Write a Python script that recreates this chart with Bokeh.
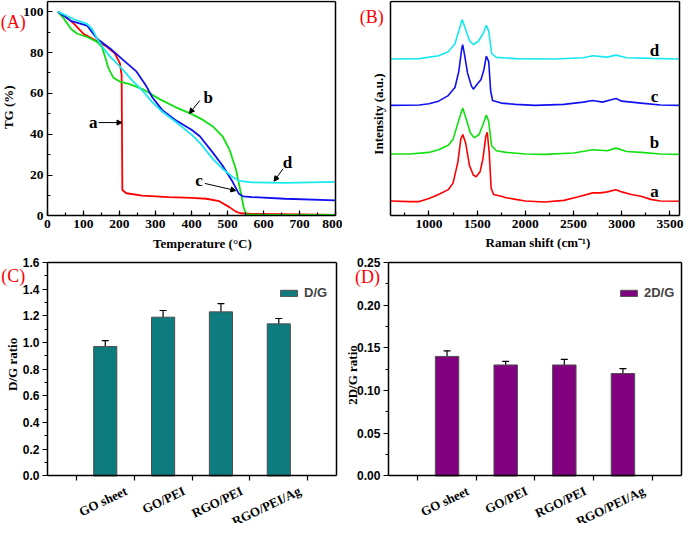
import math
from bokeh.plotting import figure
from bokeh.layouts import column, row
from bokeh.models import (ColumnDataSource, Arrow, NormalHead, Label, LabelSet, FixedTicker,
                          SingleIntervalTicker, Whisker, TeeHead, Legend, LegendItem,
                          Range1d, PrintfTickFormatter, LinearAxis)
from bokeh.embed import file_html
from bokeh.resources import INLINE

SERIF = "Liberation Serif"
SANS = "Liberation Sans"

# ---------------- (A) TG data ----------------
temp_a = [29, 50, 74, 101, 138, 165, 187, 201, 206, 207, 208, 219, 264, 337, 400, 441, 477, 505, 523, 536, 568, 700, 800]
tg_a = [100, 97.8, 94, 89, 85.5, 82.8, 79.6, 74.8, 69, 40, 12.7, 11.1, 9.9, 9.2, 8.8, 8.4, 7.2, 4.3, 2.1, 1.3, 1.0, 0.7, 0.5]
temp_b = [29, 47, 65, 83, 110, 138, 151, 160, 169, 183, 201, 228, 264, 310, 355, 396, 432, 459, 486, 505, 523, 536, 545, 552, 600, 800]
tg_b = [100, 96.3, 91.6, 89.2, 87.6, 85.2, 82.8, 78, 72.5, 67.7, 65.8, 64.5, 62.1, 57.3, 53.3, 50.2, 47, 43.8, 39, 32.6, 23, 12, 4, 0.8, 0.5, 0.5]
temp_c = [29, 65, 110, 124, 138, 174, 210, 246, 274, 291, 319, 355, 400, 423, 459, 486, 514, 532, 543, 568, 659, 800]
tg_c = [100, 95.5, 93.2, 90, 86.8, 82, 76.4, 70.9, 63.7, 58.1, 51.8, 47, 42.2, 39, 31, 24.7, 16.7, 10.7, 9.6, 9.2, 8.4, 7.6]
temp_d = [29, 74, 110, 124, 138, 156, 174, 201, 237, 264, 291, 319, 355, 400, 423, 459, 486, 514, 532, 568, 659, 800]
tg_d = [100, 96.3, 94, 91.6, 86.8, 82, 78, 73.2, 66, 61.3, 55.7, 51, 46.2, 39.8, 35.8, 27.9, 23.1, 19.1, 17.2, 16.4, 16.2, 16.7]

tg_labels = ["a", "b", "c", "d"]
tg_label_x = [127, 446, 421, 666]
tg_label_y = [45.7, 58.1, 17.5, 26.3]
tg_arrow_x0 = [142, 423, 437, 654]
tg_arrow_y0 = [45.7, 56.5, 15.9, 23.1]
tg_arrow_x1 = [207, 394, 523, 629]
tg_arrow_y1 = [45.7, 50.2, 12.4, 17.0]

# ---------------- (B) Raman data (offset, arbitrary units) ----------------
shift_a = [600, 800, 900, 1000, 1100, 1200, 1250, 1300, 1330, 1351, 1380, 1420, 1460, 1490, 1530, 1560, 1590, 1605, 1625, 1645, 1670, 1750, 1800, 1900, 2000, 2200, 2400, 2550, 2700, 2780, 2850, 2940, 3000, 3100, 3200, 3300, 3400, 3600]
int_a = [15.3, 14.7, 14.7, 18, 22, 27, 33.7, 55.3, 78.7, 83.7, 75.3, 52, 42, 40.3, 45.3, 58.7, 82, 86, 65.3, 28.7, 22, 20.3, 18.7, 17, 15.3, 14.3, 16, 19.7, 23.7, 23.7, 24.7, 27, 24.7, 22, 20.3, 17, 15.3, 15]
shift_b = [600, 800, 1000, 1100, 1200, 1250, 1300, 1350, 1390, 1430, 1470, 1520, 1560, 1595, 1620, 1650, 1700, 1800, 2000, 2200, 2500, 2700, 2850, 2940, 3050, 3200, 3400, 3600]
int_b = [63.7, 63.7, 65.3, 68, 72.7, 78.7, 95.3, 111, 98.7, 85.3, 80.3, 83.7, 93.7, 103.7, 97, 72, 67, 65.3, 63.7, 63.3, 64.7, 68, 67, 69.7, 66.3, 65.3, 63.7, 63.3]
shift_c = [600, 900, 1000, 1100, 1200, 1270, 1310, 1340, 1350, 1370, 1400, 1440, 1460, 1500, 1540, 1570, 1595, 1620, 1640, 1660, 1750, 1900, 2100, 2400, 2600, 2700, 2800, 2900, 2940, 3000, 3200, 3400, 3600]
int_c = [113.7, 114, 115.3, 118, 123.7, 132, 148.7, 172, 176, 165.3, 147, 133.7, 130.3, 135.3, 140.3, 150.3, 164.3, 158.7, 128.7, 118.7, 116, 114.7, 113.7, 114.7, 117, 118.7, 117, 119.7, 120.7, 118, 116, 114, 113.7]
shift_d = [600, 900, 1100, 1200, 1270, 1310, 1345, 1380, 1420, 1460, 1510, 1560, 1595, 1620, 1650, 1700, 1900, 2300, 2600, 2700, 2850, 2940, 3050, 3300, 3600]
int_d = [161.3, 161.7, 164.7, 168.7, 177, 190.3, 202, 192, 180.3, 176.3, 179.3, 187, 196, 190.3, 167, 163, 161.7, 161.3, 162.7, 164.7, 163.3, 165.3, 162.7, 162, 161.3]
raman_labels = ["a", "b", "c", "d"]
raman_label_x = [3340, 3340, 3340, 3340]
raman_label_y = [25, 75, 123, 170]

# ---------------- (C), (D) bar data ----------------
samples = ["GO sheet", "GO/PEI", "RGO/PEI", "RGO/PEI/Ag"]
sample_pos = [1, 2, 3, 4]
dg_ratio = [0.97, 1.19, 1.23, 1.14]
dg_err = [0.044, 0.05, 0.062, 0.04]
d2g_ratio = [0.14, 0.13, 0.13, 0.12]
d2g_err = [0.0065, 0.0043, 0.0065, 0.0057]

RED, GREEN, BLUE, CYAN = "#FF0000", "#10E010", "#1010F0", "#18E8F0"

# page layout: reference pixel -> page pixel scale
SX, SY = 684 / 700, 523 / 539


def panel(ox, oy, w, h, box, xlim, ylim):
    """Figure whose frame fills the canvas; the data box is placed at `box`
    (reference-image pixels: left, right, top, bottom)."""
    rx0, rx1, ry0, ry1 = box
    L = 8 + SX * rx0 - ox
    R = 8 + SX * rx1 - ox
    T = 8 + SY * ry0 - oy
    B = 8 + SY * ry1 - oy
    kx = (xlim[1] - xlim[0]) / (R - L)
    ky = (ylim[1] - ylim[0]) / (B - T)
    xr = Range1d(xlim[0] - L * kx, xlim[0] + (w - L) * kx)
    yr = Range1d(ylim[0] - (h - B) * ky, ylim[1] + T * ky)
    p = figure(width=w, height=h, x_range=xr, y_range=yr, output_backend="svg",
               toolbar_location=None, min_border=0, min_border_left=0, min_border_right=0,
               min_border_top=0, min_border_bottom=0)
    p.xgrid.visible = False
    p.ygrid.visible = False
    p.outline_line_color = None
    p.background_fill_color = "white"
    p.border_fill_color = "white"

    def at(rx, ry):
        lx = 8 + SX * rx - ox
        ly = 8 + SY * ry - oy
        return xlim[0] + (lx - L) * kx, ylim[0] + (B - ly) * ky

    xa, ya = p.below[0], p.left[0]
    xa.fixed_location = ylim[0]
    xa.bounds = tuple(xlim)
    ya.fixed_location = xlim[0]
    ya.bounds = tuple(ylim)
    top = LinearAxis(fixed_location=ylim[1], bounds=tuple(xlim), ticker=FixedTicker(ticks=[]))
    right = LinearAxis(fixed_location=xlim[1], bounds=tuple(ylim), ticker=FixedTicker(ticks=[]))
    p.add_layout(top, "above")
    p.add_layout(right, "right")
    for ax in (xa, ya, top, right):
        ax.axis_line_width = 1.5
        ax.axis_line_color = "black"
        ax.major_tick_line_width = 1.2
        ax.minor_tick_line_width = 1.2
        ax.major_label_text_color = "black"
    return p, at, xa, ya


def add_text(p, txt, xy, size="18px", color="red", style="normal", angle=0, font=SERIF):
    p.add_layout(Label(x=xy[0], y=xy[1], text=txt, text_font=font, text_font_size=size,
                       text_color=color, text_font_style=style, angle=angle,
                       text_align="center", text_baseline="middle"))


# ---------------- Panel A ----------------
pA, atA, xA, yA = panel(8, 8, 342, 254, (48, 343, 1, 222), (0, 800), (0, 105))
pA.line(temp_a, tg_a, line_color=RED, line_width=1.8)
pA.line(temp_b, tg_b, line_color=GREEN, line_width=1.8)
pA.line(temp_c, tg_c, line_color=BLUE, line_width=1.8)
pA.line(temp_d, tg_d, line_color=CYAN, line_width=1.8)
for i in range(4):
    pA.add_layout(Arrow(end=NormalHead(size=5, fill_color="black", line_color="black", line_width=1),
                        x_start=tg_arrow_x0[i], y_start=tg_arrow_y0[i],
                        x_end=tg_arrow_x1[i], y_end=tg_arrow_y1[i], line_width=1))
pA.text(x=tg_label_x, y=tg_label_y, text=tg_labels, text_font={"value": SERIF},
        text_font_style="bold", text_font_size="17px", text_align="center",
        text_baseline="middle", text_color="black")
xA.ticker = SingleIntervalTicker(interval=100, num_minor_ticks=2)
yA.ticker = SingleIntervalTicker(interval=20, num_minor_ticks=2)
for ax in (xA, yA):
    ax.major_tick_in, ax.major_tick_out = 5, 0
    ax.minor_tick_in, ax.minor_tick_out = 3, 0
    ax.major_label_text_font = SERIF
    ax.major_label_text_font_style = "bold"
    ax.major_label_text_font_size = "13.5px"
    ax.major_label_standoff = 4
add_text(pA, "Temperature (°C)", atA(206.7, 250), size="13px", color="black", style="bold")
add_text(pA, "TG (%)", atA(8.5, 110), size="13px", color="black", style="bold", angle=math.pi / 2)
add_text(pA, "(A)", atA(13, 22))

# ---------------- Panel B ----------------
pB, atB, xB, yB = panel(350, 8, 342, 254, (399, 695, 1.5, 222), (600, 3600), (0, 220))
pB.line(shift_a, int_a, line_color=RED, line_width=1.6)
pB.line(shift_b, int_b, line_color=GREEN, line_width=1.6)
pB.line(shift_c, int_c, line_color=BLUE, line_width=1.6)
pB.line(shift_d, int_d, line_color=CYAN, line_width=1.6)
pB.text(x=raman_label_x, y=raman_label_y, text=raman_labels, text_font={"value": SERIF},
        text_font_style="bold", text_font_size="17px", text_align="center",
        text_baseline="middle", text_color="black")
xB.ticker = SingleIntervalTicker(interval=500, num_minor_ticks=2)
xB.major_tick_in, xB.major_tick_out = 5, 0
xB.minor_tick_in, xB.minor_tick_out = 3, 0
xB.major_label_text_font = SERIF
xB.major_label_text_font_style = "bold"
xB.major_label_text_font_size = "13.5px"
xB.major_label_standoff = 4
yB.ticker = FixedTicker(ticks=[])
add_text(pB, "Raman shift (cm⁻¹)", atB(550, 249), size="13px", color="black", style="bold")
add_text(pB, "Intensity (a.u.)", atB(386.7, 117), size="13px", color="black", style="bold",
         angle=math.pi / 2)
add_text(pB, "(B)", atB(380, 17))


# ---------------- Panels C and D ----------------
def bar_panel(ox, box, vals, errs, color, ymax, interval, fmt, ylabel, ylabel_xy,
              legend_txt, legend_x, plabel, plabel_xy):
    p, at, xa, ya = panel(ox, 262, 342, 269, box, (0, 5), (0, ymax))
    src = ColumnDataSource(dict(x=sample_pos, top=vals, name=samples,
                                upper=[v + e for v, e in zip(vals, errs)],
                                lower=[v - e for v, e in zip(vals, errs)]))
    r = p.vbar(x="x", top="top", width=0.4, source=src, fill_color=color,
               line_color="#505050", line_width=1)
    p.add_layout(Whisker(base="x", upper="upper", lower="lower", source=src,
                         dimension="height", line_color="black", line_width=1.2,
                         upper_head=TeeHead(size=7, line_width=1.2),
                         lower_head=TeeHead(size=7, line_width=1.2)))
    xa.ticker = FixedTicker(ticks=[], minor_ticks=[0.5, 1.5, 2.5, 3.5, 4.5])
    xa.minor_tick_in, xa.minor_tick_out = 0, 5
    p.add_layout(LabelSet(x="x", y=0, text="name", source=src, x_offset=21, y_offset=-14,
                          angle=0.45, text_align="right", text_baseline="middle",
                          text_font=SERIF, text_font_style="bold", text_font_size="13px",
                          text_color="black"))
    ya.ticker = SingleIntervalTicker(interval=interval, num_minor_ticks=2)
    ya.formatter = PrintfTickFormatter(format=fmt)
    ya.major_tick_in, ya.major_tick_out = 0, 5
    ya.minor_tick_in, ya.minor_tick_out = 0, 3
    ya.major_label_text_font = SANS
    ya.major_label_text_font_style = "bold"
    ya.major_label_text_font_size = "12px"
    ya.major_label_standoff = 3
    add_text(p, ylabel, at(*ylabel_xy), size="13px", color="black", style="bold",
             angle=math.pi / 2)
    leg = Legend(items=[LegendItem(label=legend_txt, renderers=[r])], location=(legend_x, 223),
                 glyph_width=21, glyph_height=8, label_text_font=SANS,
                 label_text_font_style="bold", label_text_font_size="13px",
                 border_line_alpha=0, background_fill_alpha=0, padding=0, margin=0,
                 label_standoff=5, label_height=9)
    p.add_layout(leg)
    add_text(p, plabel, at(*plabel_xy))
    return p


pC = bar_panel(8, (48, 344, 270, 490), dg_ratio, dg_err, "#0E7B7E", 1.6, 0.2, "%.1f",
               "D/G ratio", (12.3, 375), "D/G", 278, "(C)", (13, 284))
pD = bar_panel(350, (397, 697, 270, 490), d2g_ratio, d2g_err, "#800080", 0.25, 0.05, "%.2f",
               "2D/G ratio", (360, 386), "2D/G", 276, "(D)", (375.5, 285))

layout = column(row(pA, pB), row(pC, pD))
open("out.html", "w").write(file_html(layout, INLINE))
